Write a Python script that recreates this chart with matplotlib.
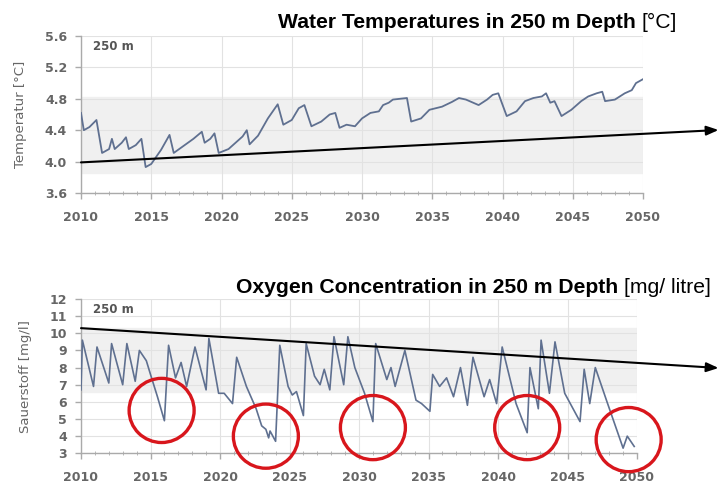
#!/usr/bin/env python3

import matplotlib
import matplotlib.pyplot as plt
from matplotlib.patches import Ellipse
from matplotlib.ticker import MultipleLocator

matplotlib.use("Agg")

# water temperature at 250 m (digitised vertices)
TEMP_YEARS = [
    2010.0, 2010.2, 2010.6, 2011.1, 2011.5, 2012.0, 2012.2, 2012.4, 2012.9, 2013.2,
    2013.4, 2013.9, 2014.3, 2014.6, 2015.0, 2015.7, 2016.3, 2016.6, 2017.3, 2018.0,
    2018.6, 2018.8, 2019.2, 2019.5, 2019.8, 2020.5, 2021.5, 2021.8, 2022.0, 2022.6,
    2023.3, 2024.0, 2024.4, 2025.0, 2025.5, 2025.9, 2026.4, 2027.1, 2027.7, 2028.1,
    2028.4, 2028.9, 2029.5, 2030.0, 2030.6, 2031.2, 2031.5, 2031.9, 2032.2, 2033.2,
    2033.5, 2034.2, 2034.8, 2035.7, 2036.4, 2036.9, 2037.4, 2038.3, 2038.9, 2039.3,
    2039.7, 2040.3, 2041.0, 2041.6, 2042.2, 2042.8, 2043.1, 2043.4, 2043.7, 2044.2,
    2044.9, 2045.6, 2046.1, 2046.7, 2047.1, 2047.3, 2048.0, 2048.7, 2049.2, 2049.5,
    2050.0,
]
TEMP_VALUES = [
    4.62, 4.40, 4.44, 4.53, 4.11, 4.16, 4.29, 4.16, 4.24, 4.31,
    4.16, 4.21, 4.29, 3.93, 3.97, 4.15, 4.34, 4.11, 4.20, 4.29,
    4.38, 4.24, 4.29, 4.36, 4.11, 4.16, 4.32, 4.40, 4.22, 4.33,
    4.55, 4.73, 4.47, 4.53, 4.68, 4.72, 4.45, 4.51, 4.60, 4.62,
    4.43, 4.47, 4.45, 4.55, 4.62, 4.64, 4.72, 4.75, 4.79, 4.81,
    4.51, 4.55, 4.66, 4.70, 4.76, 4.81, 4.79, 4.72, 4.79, 4.85,
    4.87, 4.58, 4.64, 4.77, 4.81, 4.83, 4.87, 4.75, 4.77, 4.58,
    4.66, 4.77, 4.83, 4.87, 4.89, 4.77, 4.79, 4.87, 4.91, 5.00,
    5.05,
]

# oxygen concentration at 250 m (digitised vertices)
OXY_YEARS = [
    2010.0, 2010.1, 2010.9, 2011.15, 2012.0, 2012.2, 2013.0, 2013.3, 2013.9, 2014.2,
    2014.7, 2015.0, 2015.5, 2016.0, 2016.3, 2016.8, 2017.2, 2017.6, 2018.2, 2019.0,
    2019.2, 2019.9, 2020.3, 2020.9, 2021.2, 2021.9, 2022.6, 2023.0, 2023.3, 2023.5,
    2023.6, 2024.0, 2024.3, 2024.9, 2025.2, 2025.5, 2026.0, 2026.2, 2026.8, 2027.2,
    2027.5, 2027.9, 2028.2, 2028.9, 2029.2, 2029.7, 2030.4, 2031.0, 2031.2, 2032.0,
    2032.3, 2032.6, 2033.3, 2034.1, 2034.5, 2035.1, 2035.3, 2035.8, 2036.3, 2036.8,
    2037.3, 2037.8, 2038.2, 2039.0, 2039.4, 2039.9, 2040.3, 2041.3, 2042.1, 2042.3,
    2042.9, 2043.1, 2043.7, 2044.1, 2044.8, 2045.9, 2046.2, 2046.6, 2047.0, 2047.8,
    2049.0, 2049.3, 2049.8,
]
OXY_VALUES = [
    6.7, 9.6, 6.9, 9.2, 7.1, 9.4, 7.0, 9.4, 7.2, 9.0,
    8.4, 7.6, 6.3, 4.9, 9.3, 7.4, 8.3, 6.9, 9.2, 6.7,
    9.7, 6.5, 6.5, 5.9, 8.6, 6.9, 5.6, 4.6, 4.4, 3.9,
    4.3, 3.7, 9.3, 6.9, 6.4, 6.6, 5.2, 9.4, 7.5, 7.0,
    7.9, 6.7, 9.8, 7.0, 9.8, 8.0, 6.5, 4.85, 9.4, 7.3,
    8.0, 6.9, 9.0, 6.1, 5.9, 5.45, 7.6, 6.9, 7.4, 6.3,
    8.0, 5.8, 8.6, 6.3, 7.3, 5.9, 9.2, 5.9, 4.2, 8.0,
    5.6, 9.6, 6.5, 9.5, 6.5, 4.85, 7.9, 5.9, 8.0, 6.1,
    3.3, 4.0, 3.4,
]

# marked oxygen minima (year, value)
CIRCLE_YEARS = [2015.8, 2023.3, 2031.0, 2042.1, 2049.4]
CIRCLE_VALUES = [5.5, 4.0, 4.5, 4.5, 3.8]

TEMP_TICKS = [3.6, 4.0, 4.4, 4.8, 5.2, 5.6]
OXY_TICKS = [3, 4, 5, 6, 7, 8, 9, 10, 11, 12]
YEAR_TICKS = [2010, 2015, 2020, 2025, 2030, 2035, 2040, 2045, 2050]

LINE_COLOR = "#5f7090"
TICK_COLOR = "#666666"
GRID_COLOR = "#e2e2e2"
RED = "#d8161c"

plt.rcParams.update(
    {
        "font.family": "DejaVu Sans",
        "font.size": 8,
        "axes.linewidth": 1.0,
        "axes.edgecolor": "#aaaaaa",
        "axes.spines.top": False,
        "axes.spines.right": False,
    }
)


def style_axes(ax, yticks, ylabel):
    ax.set_xlim(2010, 2050)
    ax.set_ylim(yticks[0], yticks[-1])
    ax.set_xticks(YEAR_TICKS)
    ax.set_yticks(yticks)
    ax.xaxis.set_minor_locator(MultipleLocator(1))
    ax.grid(True, color=GRID_COLOR, linewidth=0.8)
    ax.set_axisbelow(True)
    ax.tick_params(axis="both", which="major", colors="#aaaaaa", labelcolor=TICK_COLOR,
                   labelsize=9, length=4, width=1.0)
    ax.tick_params(axis="x", which="major", pad=9)
    ax.tick_params(axis="y", which="major", pad=6)
    ax.tick_params(axis="x", which="minor", colors="#aaaaaa", length=3, direction="inout")
    for lab in ax.get_xticklabels() + ax.get_yticklabels():
        lab.set_fontweight("bold")
    ax.set_ylabel(ylabel, fontsize=9.5, color=TICK_COLOR, labelpad=13)
    ax.text(0.022, 0.93, "250 m", transform=ax.transAxes, fontsize=8.5, fontweight="bold",
            color="#555555", va="center")


def add_title(fig, x_px, y_px, bold, normal):
    w, h = fig.get_size_inches() * fig.dpi
    t = fig.text(x_px / w, 1 - y_px / h, bold, fontsize=15.2, fontweight="bold",
                 family="Liberation Sans", va="baseline", ha="left")
    fig.canvas.draw()
    bb = t.get_window_extent()
    fig.text(bb.x1 / w, 1 - y_px / h, normal, fontsize=15.2, family="Liberation Sans",
             va="baseline", ha="left")


def main():
    fig = plt.figure(figsize=(7.2, 4.83), dpi=100)
    ax1 = fig.add_axes([81 / 720, 1 - 193 / 483, 562 / 720, 157 / 483])
    ax2 = fig.add_axes([81 / 720, 1 - 453.3 / 483, 556 / 720, 154.3 / 483])

    # temperature panel
    ax1.axhspan(3.85, 4.82, color="#f0f0f0", zorder=0)
    ax1.plot(TEMP_YEARS, TEMP_VALUES, color=LINE_COLOR, linewidth=1.3, zorder=3)
    style_axes(ax1, TEMP_TICKS, "Temperatur [°C]")
    ax1.annotate("", xy=(0.998, 1 - 130 / 483), xycoords="figure fraction",
                 xytext=(2010, 3.99), textcoords="data",
                 arrowprops=dict(arrowstyle="-|>,head_length=0.9,head_width=0.35",
                                 color="black", lw=1.5, shrinkA=0, shrinkB=0),
                 zorder=5, annotation_clip=False)

    # oxygen panel
    ax2.axhspan(6.6, 10.3, color="#f0f0f0", zorder=0)
    ax2.plot(OXY_YEARS, OXY_VALUES, color=LINE_COLOR, linewidth=1.2, zorder=3)
    style_axes(ax2, OXY_TICKS, "Sauerstoff [mg/l]")
    ax2.yaxis.set_minor_locator(MultipleLocator(1))
    ax2.annotate("", xy=(0.998, 1 - 368 / 483), xycoords="figure fraction",
                 xytext=(2010, 10.3), textcoords="data",
                 arrowprops=dict(arrowstyle="-|>,head_length=0.9,head_width=0.35",
                                 color="black", lw=1.5, shrinkA=0, shrinkB=0),
                 zorder=5, annotation_clip=False)

    for cx, cy in zip(CIRCLE_YEARS, CIRCLE_VALUES):
        ell = Ellipse((cx, cy), width=65 / 13.9, height=64 / 17.1, fill=False,
                      edgecolor=RED, linewidth=2.4, zorder=6, clip_on=False)
        ax2.add_patch(ell)

    add_title(fig, 278, 28, "Water Temperatures in 250 m Depth ", "[°C]")
    add_title(fig, 236, 293, "Oxygen Concentration in 250 m Depth ", "[mg/ litre]")

    fig.savefig("out.png", dpi=100, facecolor="white")
    plt.close(fig)


if __name__ == "__main__":
    main()
